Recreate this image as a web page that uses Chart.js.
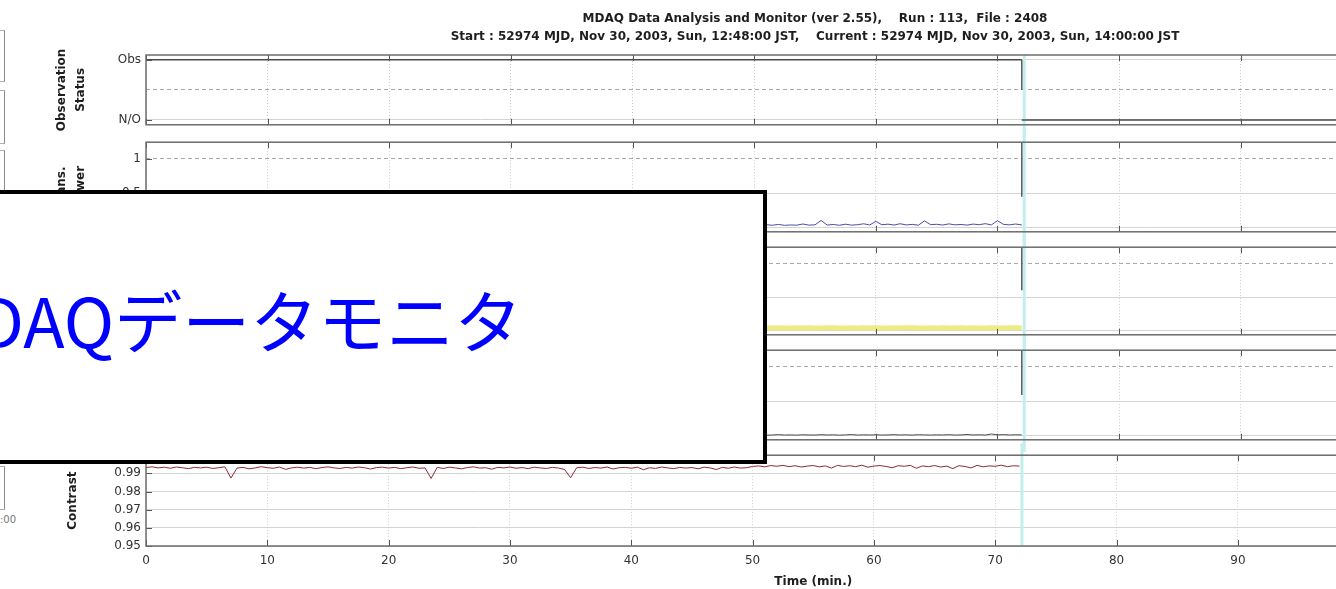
<!DOCTYPE html>
<html>
<head>
<meta charset="utf-8">
<title>MDAQ Data Monitor</title>
<script src="https://cdn.jsdelivr.net/npm/chart.js@4.4.1/dist/chart.umd.min.js"></script>
<style>
  html, body { margin: 0; padding: 0; background: #fff; width: 1336px; height: 589px; overflow: hidden; }
  .panel { position: absolute; left: 0; }
  .edge { position: absolute; left: 0; width: 4px; border-right: 1px solid #8c8c8c; border-top: 1px solid #b0b0b0; border-bottom: 1px solid #b0b0b0; }
  .edge-label { position: absolute; left: 0; top: 514px; font: 10px "DejaVu Sans", sans-serif; color: #777; }
  #banner { position: absolute; left: -10px; top: 190px; width: 769px; height: 266px; border: 4px solid #000; background: #fff; z-index: 5; overflow: visible; }
  #banner span { position: absolute; left: -72px; top: 91px; font: 68px/68px "Noto Sans CJK JP", sans-serif; color: #0000ff; white-space: nowrap; }
</style>
</head>
<body>

<div class="edge" style="top:30px;height:50px"></div>
<div class="edge" style="top:90px;height:52px"></div>
<div class="edge" style="top:150px;height:40px"></div>
<div class="edge" style="top:466px;height:42px"></div>
<div class="edge-label">:00</div>

<canvas id="panel0" class="panel" width="1500" height="137" style="top:0px"></canvas>
<canvas id="panel1" class="panel" width="1500" height="114" style="top:130px"></canvas>
<canvas id="panel2" class="panel" width="1500" height="112" style="top:235px"></canvas>
<canvas id="panel3" class="panel" width="1500" height="114" style="top:338px"></canvas>
<canvas id="panel4" class="panel" width="1500" height="146" style="top:443px"></canvas>

<div id="banner"><span>MDAQデータモニタ</span></div>

<script>
// 見出し
const headingLines = [
    'MDAQ Data Analysis and Monitor (ver 2.55),    Run : 113,  File : 2408',
    'Start : 52974 MJD, Nov 30, 2003, Sun, 12:48:00 JST,    Current : 52974 MJD, Nov 30, 2003, Sun, 14:00:00 JST'
];

// 経過時間 (分)
const timeMin = [
    0, 0.5, 1, 1.5, 2, 2.5, 3, 3.5, 4, 4.5,
    5, 5.5, 6, 6.5, 7, 7.5, 8, 8.5, 9, 9.5,
    10, 10.5, 11, 11.5, 12, 12.5, 13, 13.5, 14, 14.5,
    15, 15.5, 16, 16.5, 17, 17.5, 18, 18.5, 19, 19.5,
    20, 20.5, 21, 21.5, 22, 22.5, 23, 23.5, 24, 24.5,
    25, 25.5, 26, 26.5, 27, 27.5, 28, 28.5, 29, 29.5,
    30, 30.5, 31, 31.5, 32, 32.5, 33, 33.5, 34, 34.5,
    35, 35.5, 36, 36.5, 37, 37.5, 38, 38.5, 39, 39.5,
    40, 40.5, 41, 41.5, 42, 42.5, 43, 43.5, 44, 44.5,
    45, 45.5, 46, 46.5, 47, 47.5, 48, 48.5, 49, 49.5,
    50, 50.5, 51, 51.5, 52, 52.5, 53, 53.5, 54, 54.5,
    55, 55.5, 56, 56.5, 57, 57.5, 58, 58.5, 59, 59.5,
    60, 60.5, 61, 61.5, 62, 62.5, 63, 63.5, 64, 64.5,
    65, 65.5, 66, 66.5, 67, 67.5, 68, 68.5, 69, 69.5,
    70, 70.5, 71, 71.5, 72
];

// 観測ステータス (1 = Obs, 0 = N/O)
const obsOnMin = [0, 72];
const obsOnState = [1, 1];
const obsOffMin = [72, 110];
const obsOffState = [0, 0];

// 透過パワー
const transPower = [
    0.036, 0.033, 0.039, 0.031, 0.037, 0.034, 0.041, 0.032, 0.035, 0.038,
    0.033, 0.040, 0.031, 0.036, 0.034, 0.039, 0.032, 0.037, 0.035, 0.042,
    0.034, 0.031, 0.038, 0.035, 0.033, 0.040, 0.036, 0.032, 0.039, 0.034,
    0.037, 0.033, 0.041, 0.035, 0.032, 0.038, 0.034, 0.036, 0.031, 0.039,
    0.035, 0.032, 0.038, 0.034, 0.040, 0.033, 0.036, 0.031, 0.037, 0.035,
    0.039, 0.034, 0.032, 0.037, 0.035, 0.041, 0.033, 0.036, 0.038, 0.032,
    0.035, 0.038, 0.033, 0.040, 0.034, 0.036, 0.032, 0.039, 0.035, 0.037,
    0.033, 0.036, 0.041, 0.034, 0.038, 0.032, 0.035, 0.039, 0.033, 0.037,
    0.040, 0.034, 0.036, 0.032, 0.038, 0.035, 0.041, 0.033, 0.037, 0.034,
    0.036, 0.039, 0.032, 0.035, 0.038, 0.033, 0.040, 0.034, 0.037, 0.035,
    0.038, 0.033, 0.042, 0.035, 0.047, 0.034, 0.039, 0.036, 0.053, 0.037,
    0.041, 0.105, 0.038, 0.046, 0.035, 0.050, 0.037, 0.043, 0.056, 0.039,
    0.092, 0.042, 0.051, 0.038, 0.057, 0.040, 0.047, 0.036, 0.098, 0.044,
    0.049, 0.038, 0.055, 0.041, 0.046, 0.037, 0.052, 0.043, 0.058, 0.040,
    0.101, 0.047, 0.041, 0.053, 0.039
];

// 第3チャンネル (黄)
const ch3Level = [
    0.041, 0.043, 0.040, 0.042, 0.044, 0.041, 0.039, 0.043, 0.042, 0.040,
    0.042, 0.044, 0.041, 0.039, 0.043, 0.042, 0.040, 0.044, 0.041, 0.043,
    0.040, 0.042, 0.044, 0.041, 0.039, 0.043, 0.042, 0.040, 0.045, 0.041,
    0.043, 0.040, 0.042, 0.044, 0.041, 0.039, 0.043, 0.042, 0.040, 0.044,
    0.041, 0.043, 0.040, 0.042, 0.045, 0.041, 0.039, 0.043, 0.042, 0.040,
    0.042, 0.044, 0.041, 0.040, 0.043, 0.042, 0.039, 0.044, 0.041, 0.043,
    0.040, 0.042, 0.045, 0.041, 0.039, 0.043, 0.042, 0.040, 0.044, 0.041,
    0.043, 0.041, 0.042, 0.044, 0.040, 0.039, 0.043, 0.042, 0.041, 0.044,
    0.041, 0.043, 0.040, 0.042, 0.044, 0.041, 0.040, 0.043, 0.042, 0.039,
    0.042, 0.044, 0.041, 0.040, 0.043, 0.042, 0.045, 0.041, 0.039, 0.043,
    0.040, 0.042, 0.044, 0.041, 0.043, 0.040, 0.042, 0.044, 0.041, 0.043,
    0.042, 0.040, 0.043, 0.045, 0.041, 0.042, 0.044, 0.040, 0.043, 0.041,
    0.043, 0.041, 0.042, 0.044, 0.040, 0.043, 0.045, 0.041, 0.042, 0.044,
    0.041, 0.043, 0.040, 0.042, 0.044, 0.041, 0.043, 0.042, 0.040, 0.044,
    0.042, 0.041, 0.043, 0.044, 0.042
];

// 第4チャンネル (黒)
const ch4Level = [
    0.009, 0.006, 0.011, 0.007, 0.010, 0.005, 0.008, 0.012, 0.006, 0.009,
    0.007, 0.010, 0.005, 0.009, 0.013, 0.006, 0.008, 0.011, 0.007, 0.010,
    0.006, 0.009, 0.012, 0.007, 0.008, 0.005, 0.010, 0.008, 0.011, 0.006,
    0.009, 0.007, 0.010, 0.006, 0.012, 0.008, 0.005, 0.009, 0.007, 0.011,
    0.008, 0.010, 0.006, 0.009, 0.007, 0.012, 0.008, 0.006, 0.010, 0.007,
    0.011, 0.006, 0.009, 0.007, 0.010, 0.008, 0.013, 0.006, 0.009, 0.007,
    0.008, 0.011, 0.005, 0.009, 0.007, 0.010, 0.006, 0.012, 0.008, 0.009,
    0.006, 0.010, 0.008, 0.011, 0.007, 0.009, 0.005, 0.010, 0.008, 0.012,
    0.007, 0.009, 0.006, 0.010, 0.008, 0.011, 0.007, 0.009, 0.012, 0.006,
    0.010, 0.007, 0.009, 0.006, 0.011, 0.008, 0.010, 0.007, 0.009, 0.013,
    0.008, 0.012, 0.007, 0.010, 0.015, 0.009, 0.011, 0.008, 0.013, 0.010,
    0.009, 0.014, 0.010, 0.012, 0.008, 0.011, 0.016, 0.009, 0.012, 0.010,
    0.013, 0.009, 0.011, 0.015, 0.010, 0.012, 0.008, 0.014, 0.011, 0.009,
    0.012, 0.010, 0.014, 0.009, 0.011, 0.017, 0.010, 0.013, 0.009, 0.024,
    0.012, 0.015, 0.010, 0.013, 0.011
];

// コントラスト
const contrast = [
    0.9932, 0.9936, 0.9930, 0.9934, 0.9928, 0.9935, 0.9931, 0.9926, 0.9933, 0.9930,
    0.9934, 0.9927, 0.9931, 0.9936, 0.9874, 0.9929, 0.9933, 0.9925, 0.9930, 0.9937,
    0.9931, 0.9928, 0.9935, 0.9922, 0.9930, 0.9934, 0.9929, 0.9933, 0.9926, 0.9932,
    0.9936, 0.9930, 0.9927, 0.9933, 0.9929, 0.9935, 0.9931, 0.9924, 0.9932, 0.9934,
    0.9929, 0.9933, 0.9926, 0.9931, 0.9935, 0.9928, 0.9930, 0.9872, 0.9933, 0.9927,
    0.9934, 0.9930, 0.9925, 0.9932, 0.9936, 0.9929, 0.9931, 0.9923, 0.9933, 0.9930,
    0.9935, 0.9928, 0.9932, 0.9926, 0.9934, 0.9930, 0.9927, 0.9933, 0.9929, 0.9921,
    0.9876, 0.9931, 0.9934, 0.9927, 0.9932, 0.9929, 0.9935, 0.9924, 0.9931, 0.9933,
    0.9928, 0.9934, 0.9920, 0.9931, 0.9927, 0.9935, 0.9930, 0.9926, 0.9933, 0.9929,
    0.9932, 0.9925, 0.9934, 0.9930, 0.9921, 0.9933, 0.9928, 0.9935, 0.9929, 0.9931,
    0.9938, 0.9941, 0.9936, 0.9943, 0.9939, 0.9944, 0.9937, 0.9942, 0.9935, 0.9940,
    0.9943, 0.9936, 0.9941, 0.9929, 0.9944, 0.9938, 0.9942, 0.9937, 0.9945, 0.9934,
    0.9940, 0.9943, 0.9938, 0.9931, 0.9942, 0.9939, 0.9944, 0.9928, 0.9941, 0.9937,
    0.9943, 0.9935, 0.9940, 0.9926, 0.9942, 0.9938, 0.9930, 0.9944, 0.9936, 0.9941,
    0.9939, 0.9945, 0.9937, 0.9942, 0.9940
];

// 現在時刻マーカー
const currentMin = 72;
const cursorMin = 72.2;
const markerTop = [1, 1.24, 1.24, 1.24];
const markerBottom = [0.5, 0.45, 0.6, 0.59];

const FONT = '"DejaVu Sans", sans-serif';
Chart.defaults.font.family = FONT;
Chart.defaults.font.size = 12;
Chart.defaults.color = '#333';

const toPoints = (xs, ys) => xs.map((t, i) => ({ x: t, y: ys[i] }));

// 枠・内向き目盛・カーソル・見出し
const frame = {
    id: 'frame',
    beforeDatasetsDraw(chart, args, opts) {
        const { ctx, chartArea: a, scales: { x } } = chart;
        const px = x.getPixelForValue(cursorMin);
        ctx.save();
        ctx.strokeStyle = '#c2efeb';
        ctx.lineWidth = 3;
        ctx.beginPath();
        ctx.moveTo(px, opts.cursorFromTop ? a.top : 0);
        ctx.lineTo(px, opts.cursorToBottom ? a.bottom : chart.height);
        ctx.stroke();
        ctx.restore();
    },
    afterDatasetsDraw(chart, args, opts) {
        const { ctx, chartArea: a, scales: { x, y } } = chart;
        ctx.save();
        ctx.strokeStyle = '#555';
        ctx.lineWidth = 1;
        ctx.beginPath();
        x.ticks.forEach(t => {
            const px = Math.round(x.getPixelForValue(t.value)) + 0.5;
            ctx.moveTo(px, a.top); ctx.lineTo(px, a.top + 6);
            ctx.moveTo(px, a.bottom); ctx.lineTo(px, a.bottom - 6);
        });
        y.ticks.forEach(t => {
            if (!t.label) return;
            const py = Math.round(y.getPixelForValue(t.value)) + 0.5;
            ctx.moveTo(a.left, py); ctx.lineTo(a.left + 6, py);
        });
        ctx.stroke();
        ctx.strokeStyle = '#6c6c6c';
        ctx.lineWidth = 1.5;
        ctx.strokeRect(a.left, a.top, a.width, a.height);
        if (opts.heading) {
            ctx.font = 'bold 12px ' + FONT;
            ctx.fillStyle = '#1e1e1e';
            ctx.textAlign = 'center';
            ctx.textBaseline = 'middle';
            const cx = (a.left + a.right) / 2;
            opts.heading.forEach((s, i) => ctx.fillText(s, cx, opts.headingY[i]));
        }
        ctx.restore();
    }
};

function yTitle(text, padTop) {
    if (!text) return { display: false };
    return {
        display: true, text: text, color: '#1e1e1e',
        font: { weight: 'bold', size: 12, lineHeight: 1.6 },
        padding: { top: padTop, bottom: 0 }
    };
}

function makePanel(id, p) {
    return new Chart(document.getElementById(id), {
        type: 'line',
        data: { datasets: p.datasets },
        options: {
            responsive: false,
            animation: false,
            events: [],
            layout: { padding: { top: p.padTop, bottom: p.padBottom, left: 0, right: 16 } },
            elements: { point: { radius: 0 }, line: { tension: 0 } },
            plugins: { legend: { display: false }, tooltip: { enabled: false }, frame: p.frame },
            scales: {
                x: {
                    type: 'linear', min: 0, max: 110,
                    ticks: { stepSize: 10, display: !!p.showTime, padding: 8, color: '#333' },
                    grid: { color: '#cdcdcd', drawTicks: false },
                    border: { display: false, dash: [1, 2] },
                    title: p.showTime
                        ? { display: true, text: 'Time (min.)', color: '#1e1e1e', font: { weight: 'bold', size: 12 }, padding: { top: 5, bottom: 0 } }
                        : { display: false },
                    afterFit: s => { s.height = p.showTime ? 43 : 0; }
                },
                y: {
                    type: 'linear', min: p.yMin, max: p.yMax,
                    afterBuildTicks: s => { s.ticks = p.yTicks.map(v => ({ value: v })); },
                    ticks: { padding: 5, autoSkip: false, color: '#333', callback: p.yLabel },
                    grid: {
                        drawTicks: false,
                        color: c => (p.dashAt !== undefined && c.tick && c.tick.value === p.dashAt) ? '#a8a8a8' : '#d4d4d4'
                    },
                    border: {
                        display: false,
                        dash: c => (p.dashAt !== undefined && c.tick && c.tick.value === p.dashAt) ? [4, 3] : []
                    },
                    title: yTitle(p.title, p.titlePad),
                    afterFit: s => { s.width = 146; }
                }
            }
        },
        plugins: [frame]
    });
}

const marker = i => ({
    data: toPoints([currentMin, currentMin], [markerTop[i], markerBottom[i]]),
    borderColor: '#5a5a5a', borderWidth: 1.5
});
const plainLabel = v => (v === 0.5 ? '0.5' : String(v));

makePanel('panel0', {
    padTop: 55, padBottom: 10,
    yMin: -0.08, yMax: 1.08, yTicks: [0, 0.5, 1], dashAt: 0.5,
    yLabel: v => (v === 1 ? 'Obs' : v === 0 ? 'N/O' : ''),
    title: ['Observation', 'Status'], titlePad: 52,
    frame: { cursorFromTop: true, heading: headingLines, headingY: [19, 37] },
    datasets: [
        { data: toPoints(obsOnMin, obsOnState), borderColor: '#4a4a4a', borderWidth: 1.5 },
        { data: toPoints(obsOffMin, obsOffState), borderColor: '#4a4a4a', borderWidth: 1.5 },
        marker(0)
    ]
});

makePanel('panel1', {
    padTop: 10, padBottom: 10,
    yMin: -0.06, yMax: 1.24, yTicks: [0, 0.5, 1], dashAt: 1, yLabel: plainLabel,
    title: ['Trans.', 'Power'], titlePad: 52,
    frame: {},
    datasets: [
        { data: toPoints(timeMin, transPower), borderColor: '#4c4ca8', borderWidth: 1 },
        marker(1)
    ]
});

makePanel('panel2', {
    padTop: 10, padBottom: 10,
    yMin: -0.06, yMax: 1.24, yTicks: [0, 0.5, 1], dashAt: 1, yLabel: plainLabel,
    frame: {},
    datasets: [
        { data: toPoints(timeMin, ch3Level), borderColor: '#eeea84', borderWidth: 5 },
        marker(2)
    ]
});

makePanel('panel3', {
    padTop: 10, padBottom: 10,
    yMin: -0.06, yMax: 1.24, yTicks: [0, 0.5, 1], dashAt: 1, yLabel: plainLabel,
    frame: {},
    datasets: [
        { data: toPoints(timeMin, ch4Level), borderColor: '#4e4e4e', borderWidth: 1 },
        marker(3)
    ]
});

makePanel('panel4', {
    padTop: 9, padBottom: 0, showTime: true,
    yMin: 0.95, yMax: 1.0, yTicks: [0.95, 0.96, 0.97, 0.98, 0.99, 1.0],
    yLabel: v => (v === 1 ? '1' : v.toFixed(2)),
    title: 'Contrast', titlePad: 63,
    frame: { cursorToBottom: true },
    datasets: [
        { data: toPoints(timeMin, contrast), borderColor: '#8c2a36', borderWidth: 1 }
    ]
});
</script>
</body>
</html>
